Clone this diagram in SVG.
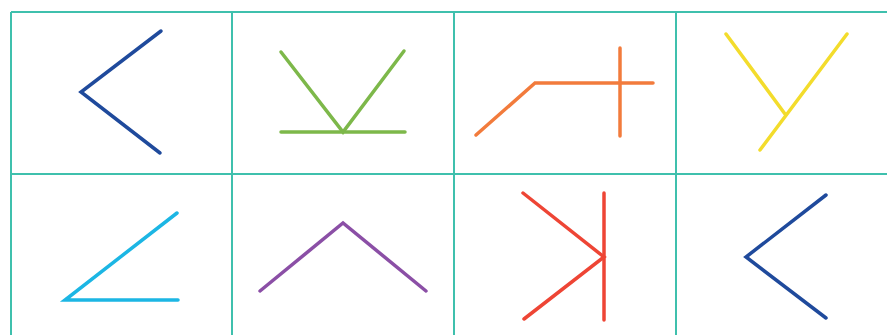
<svg xmlns="http://www.w3.org/2000/svg" width="887" height="335" viewBox="0 0 887 335">
<style>
.grid{stroke:#3fc0ad;stroke-width:2;fill:none}
.fig{fill:none;stroke-width:3.5;stroke-linecap:round;stroke-linejoin:miter}
.blue{stroke:#1f4a9c}
.green{stroke:#7db84a}
.orange{stroke:#f27b3c}
.yellow{stroke:#f3dc2c}
.cyan{stroke:#1cb6e4}
.purple{stroke:#8b4fa6}
.red{stroke:#ee4535}
</style>
<rect width="887" height="335" fill="#ffffff"/>
<g id="grid" class="grid">
<line x1="11" y1="12" x2="887" y2="12"/>
<line x1="11" y1="174" x2="887" y2="174"/>
<line x1="11" y1="12" x2="11" y2="335"/>
<line x1="232" y1="12" x2="232" y2="335"/>
<line x1="454" y1="12" x2="454" y2="335"/>
<line x1="676" y1="12" x2="676" y2="335"/>
</g>
<g id="fig1" class="fig blue"><polyline points="161,31 81,92 160,153"/></g>
<g id="fig2" class="fig green"><polyline points="281,52 343,132 404,51"/><line x1="281" y1="132" x2="405" y2="132"/></g>
<g id="fig3" class="fig orange"><polyline points="476,135 535,83 653,83"/><line x1="620" y1="48" x2="620" y2="136"/></g>
<g id="fig4" class="fig yellow"><line x1="726" y1="34" x2="785" y2="114"/><line x1="847" y1="34" x2="760" y2="150"/></g>
<g id="fig5" class="fig cyan"><polyline points="177,213 65,300 178,300"/></g>
<g id="fig6" class="fig purple"><polyline points="260,291 343,223 426,291"/></g>
<g id="fig7" class="fig red"><line x1="604" y1="193" x2="604" y2="320"/><polyline points="523,193 604,257 524,319"/></g>
<g id="fig8" class="fig blue"><polyline points="826,195 746,257 826,318"/></g>
</svg>
